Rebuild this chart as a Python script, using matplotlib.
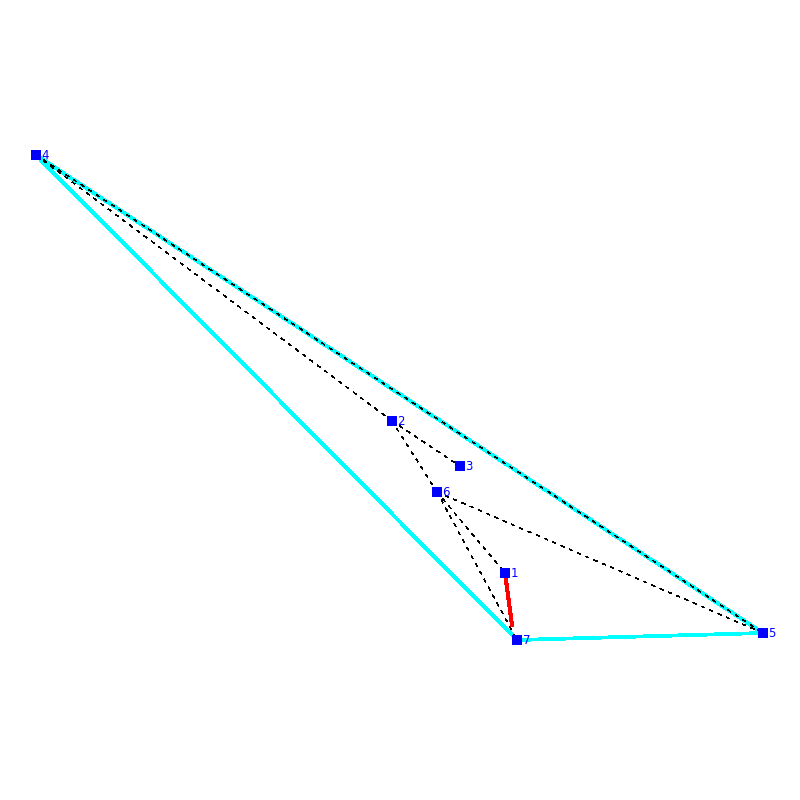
import matplotlib
matplotlib.use('Agg')
import matplotlib.pyplot as plt

# node positions
node_ids = ['1', '2', '3', '4', '5', '6', '7']
node_x = [505, 392, 460, 36, 763, 437, 517]
node_y = [573, 421, 466, 155, 633, 492, 640]

hull_edges = [('4', '7'), ('7', '5'), ('5', '4')]
dashed_edges = [('4', '5'), ('4', '2'), ('2', '3'), ('2', '6'),
                ('6', '1'), ('6', '5'), ('6', '7')]
red_x = [505, 512]
red_y = [573, 625]

pos = {n: (x, y) for n, x, y in zip(node_ids, node_x, node_y)}

plt.rcParams['lines.scale_dashes'] = False

fig = plt.figure(figsize=(8, 8), dpi=100)
ax = fig.add_axes([0, 0, 1, 1])
ax.set_xlim(0, 800)
ax.set_ylim(800, 0)
ax.axis('off')

for a, b in hull_edges:
    ax.plot([pos[a][0], pos[b][0]], [pos[a][1], pos[b][1]],
            color='#00ffff', lw=2.0, antialiased=False, zorder=1)

for a, b in dashed_edges:
    ax.plot([pos[a][0], pos[b][0]], [pos[a][1], pos[b][1]],
            color='black', lw=0.3, dashes=(2.8, 3.8), antialiased=False, zorder=2)

ax.plot(red_x, red_y, color='#ff0000', lw=2.2, antialiased=False, zorder=3)

ax.scatter(node_x, node_y, s=46, marker='s', color='#0000ff', linewidths=0, zorder=4)
for n, x, y in zip(node_ids, node_x, node_y):
    ax.text(x + 5.5, y + 0.5, n, color='#0000ff', fontsize=8.5, va='center', ha='left', zorder=5)

fig.savefig('out.png', dpi=100)
